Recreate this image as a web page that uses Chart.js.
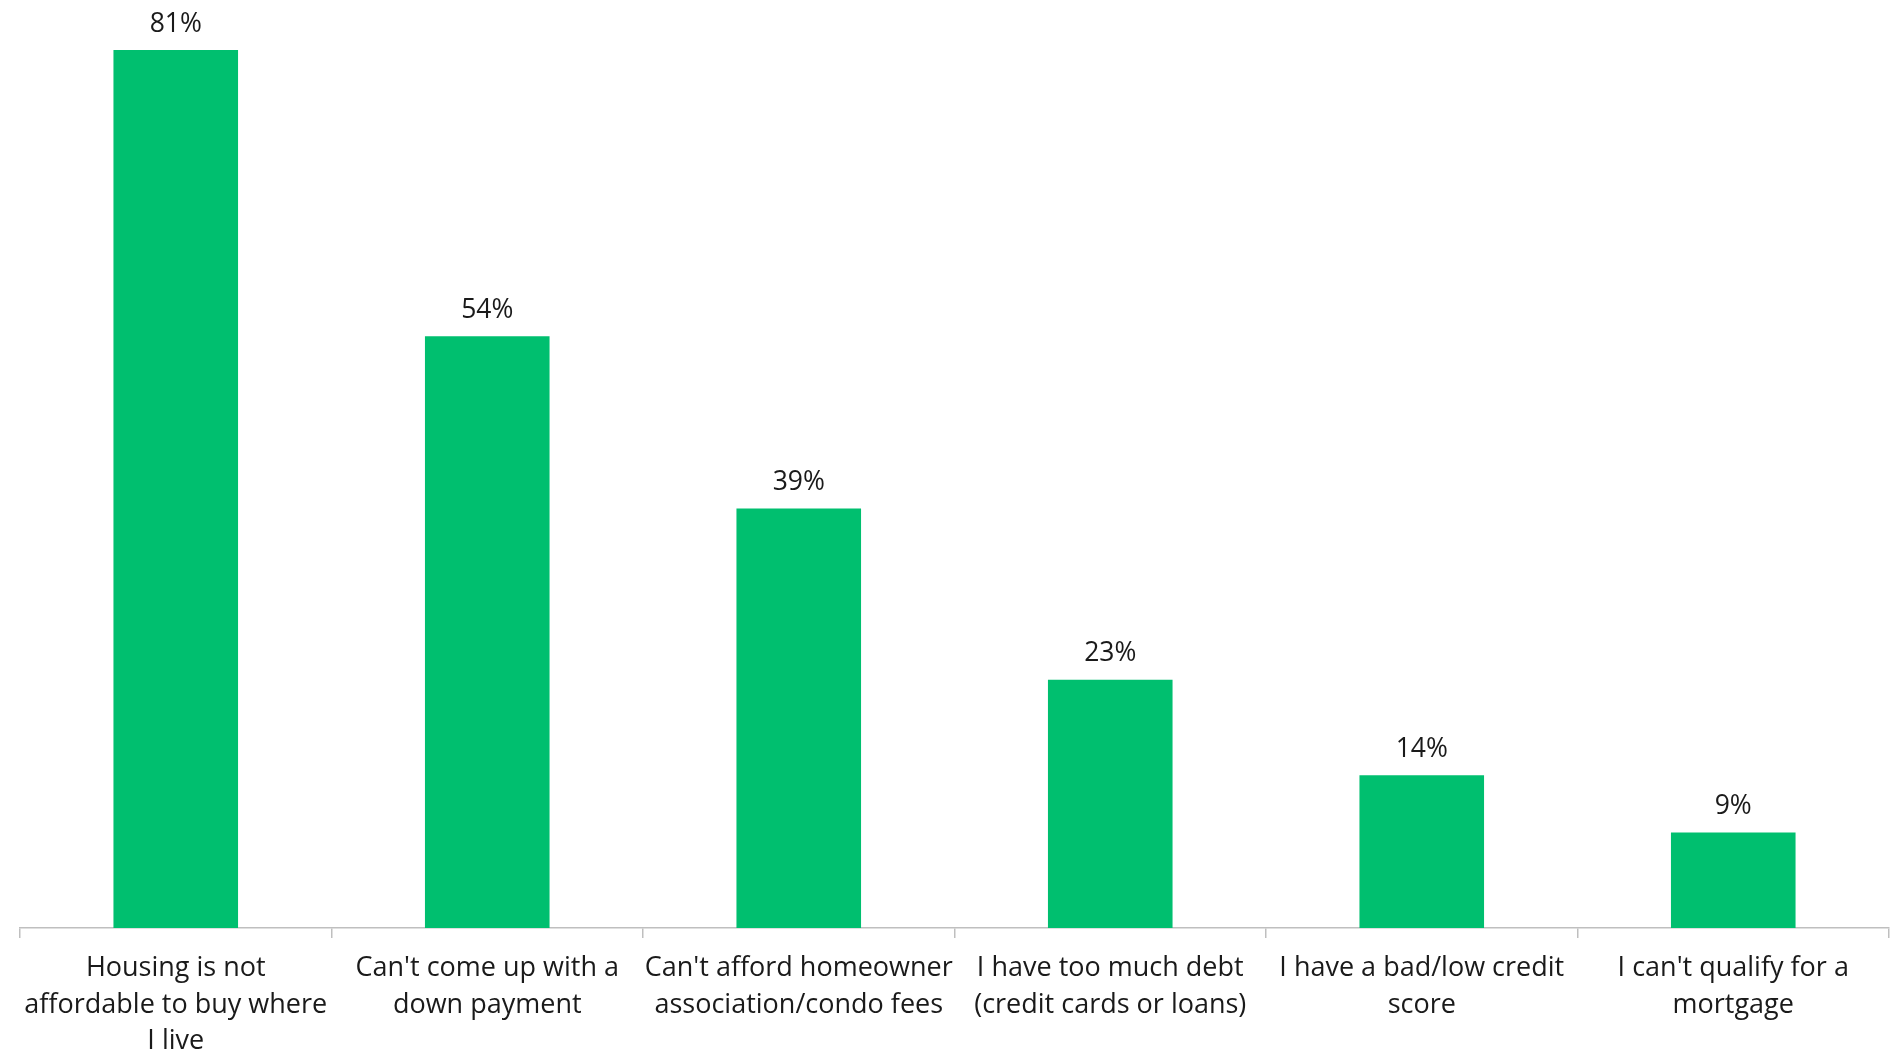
<!DOCTYPE html>
<html>
<head>
<meta charset="utf-8">
<script src="https://cdn.jsdelivr.net/npm/chart.js@4/dist/chart.umd.min.js"></script>
<style>
html,body{margin:0;padding:0;background:#fff;overflow:hidden;}
#wrap{width:1899px;height:1054px;position:relative;}
</style>
</head>
<body>
<div id="wrap"><canvas id="c" width="1899" height="1054"></canvas></div>
<script>
const categories = [
  ["Housing is not", "affordable to buy where", "I live"],
  ["Can't come up with a", "down payment"],
  ["Can't afford homeowner", "association/condo fees"],
  ["I have too much debt", "(credit cards or loans)"],
  ["I have a bad/low credit", "score"],
  ["I can't qualify for a", "mortgage"]
];
// bar heights
const values = [81, 54.6, 38.7, 22.9, 14.1, 8.8];
// labels as printed above the bars
const valueLabels = ["81%", "54%", "39%", "23%", "14%", "9%"];

const labelPlugin = {
  id: 'valueLabels',
  afterDatasetsDraw(chart) {
    const ctx = chart.ctx;
    const meta = chart.getDatasetMeta(0);
    ctx.save();
    ctx.font = '26.5px "Open Sans"';
    ctx.fillStyle = '#1a1a1a';
    ctx.textAlign = 'center';
    ctx.textBaseline = 'middle';
    meta.data.forEach((bar, i) => {
      ctx.fillText(valueLabels[i], bar.x, bar.y - 26);
    });
    ctx.restore();
  }
};

new Chart(document.getElementById('c'), {
  type: 'bar',
  data: {
    labels: categories,
    datasets: [{
      data: values,
      backgroundColor: '#00BF6F',
      borderWidth: 0,
      categoryPercentage: 1,
      barPercentage: 0.4
    }]
  },
  options: {
    responsive: false,
    animation: false,
    layout: { padding: { left: 20, right: 10, top: 50, bottom: 0 } },
    plugins: { legend: { display: false }, tooltip: { enabled: false } },
    scales: {
      y: { display: false, min: 0, max: 81 },
      x: {
        afterFit(scale) { scale.height = 126; },
        border: { display: true, color: '#bfbfbf', width: 1.5 },
        grid: { display: true, drawOnChartArea: false, color: '#bfbfbf', tickLength: 10, lineWidth: 1.5, offset: true },
        ticks: {
          color: '#1a1a1a',
          padding: 12,
          maxRotation: 0,
          autoSkip: false,
          font: { family: '"Open Sans"', size: 27, lineHeight: 1.36 }
        }
      }
    }
  },
  plugins: [labelPlugin]
});
</script>
</body>
</html>
